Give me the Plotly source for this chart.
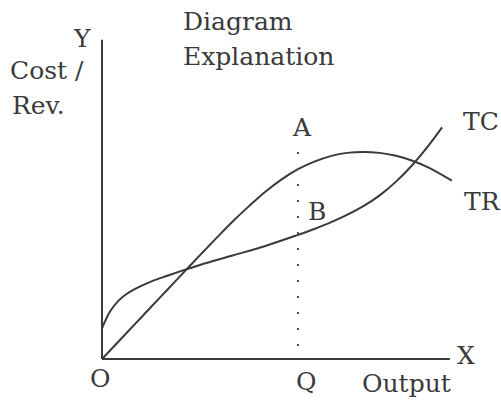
import plotly.graph_objects as go

# ---- data (economic units; Q marked at output 6) ----
tr_q = [0, 0.5, 1, 1.5, 2, 2.5, 3, 3.5, 4, 4.5, 5, 5.5, 6, 6.5, 7, 7.5, 8, 8.5, 9, 9.5, 10, 10.71]
tr_v = [0, 0.53, 1.06, 1.59, 2.12, 2.65, 3.18, 3.70, 4.21, 4.68, 5.12, 5.50, 5.81, 6.04, 6.21,
        6.31, 6.34, 6.31, 6.22, 6.07, 5.86, 5.46]

tc_q = [0, 0.25, 0.5, 0.75, 1, 1.5, 2, 2.5, 3, 4, 5, 6, 6.5, 7, 7.5, 8, 8.5, 9, 9.5, 10, 10.41]
tc_v = [0.94, 1.46, 1.78, 1.99, 2.14, 2.37, 2.55, 2.72, 2.88, 3.17, 3.46, 3.80, 3.98, 4.18,
        4.41, 4.68, 5.01, 5.43, 5.94, 6.54, 7.09]

q_mark = 6
q_top = 6.34
x_axis_end = 10.65
y_axis_end = 9.77

# ---- layout helpers (pixel -> data) ----
S = 32.667
OX, OY = 102, 359
W, H = 501, 400


def dx(px):
    return (px - OX) / S


def dy(py):
    return (OY - py) / S


INK = "#3a3a3a"
FONT = "DejaVu Serif"
FS = 25

fig = go.Figure()
fig.add_trace(go.Scatter(x=tr_q, y=tr_v, mode="lines",
                         line=dict(color=INK, width=2, shape="spline", smoothing=1.0),
                         hoverinfo="skip", showlegend=False))
fig.add_trace(go.Scatter(x=tc_q, y=tc_v, mode="lines",
                         line=dict(color=INK, width=2, shape="spline", smoothing=1.0),
                         hoverinfo="skip", showlegend=False))
fig.add_trace(go.Scatter(x=[q_mark, q_mark], y=[q_top, 0], mode="lines",
                         line=dict(color="#555555", width=2, dash="2px,14px"),
                         hoverinfo="skip", showlegend=False))

shapes = [
    dict(type="line", x0=0, y0=0, x1=0, y1=y_axis_end, line=dict(color=INK, width=2)),
    dict(type="line", x0=0, y0=0, x1=x_axis_end, y1=0, line=dict(color=INK, width=2)),
]

labels = [
    ("Y", 82, 38, "center"),
    ("Cost /", 8, 70, "left"),
    ("Rev.", 10, 105, "left"),
    ("Diagram", 181, 21, "left"),
    ("Explanation", 181, 56, "left"),
    ("A", 302, 127, "center"),
    ("B", 317, 211, "center"),
    ("TC", 461, 121, "left"),
    ("TR", 462, 201, "left"),
    ("X", 466, 355, "center"),
    ("O", 100, 378, "center"),
    ("Q", 306, 381, "center"),
    ("Output", 360, 383, "left"),
]

annotations = []
for txt, px, py, anc in labels:
    annotations.append(dict(text=txt, x=dx(px), y=dy(py), xref="x", yref="y",
                            showarrow=False, xanchor=anc, yanchor="middle",
                            font=dict(family=FONT, size=FS, color=INK)))

fig.update_layout(
    width=W, height=H,
    margin=dict(l=0, r=0, t=0, b=0),
    paper_bgcolor="white", plot_bgcolor="white",
    xaxis=dict(range=[dx(0), dx(W)], visible=False, fixedrange=True),
    yaxis=dict(range=[dy(H), dy(0)], visible=False, fixedrange=True),
    shapes=shapes,
    annotations=annotations,
)

fig.write_html(
    "out.html",
    config={"displayModeBar": False, "staticPlot": True},
    post_script="document.body.style.margin='0';document.body.style.overflow='hidden';",
)
